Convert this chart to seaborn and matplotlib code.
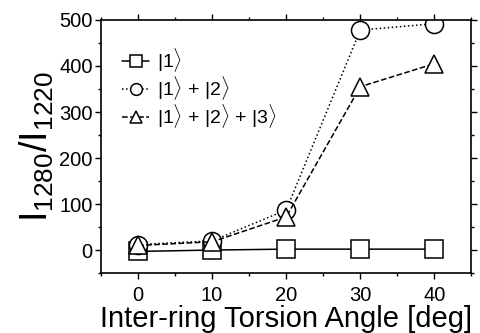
import numpy as np
import pandas as pd
import matplotlib
matplotlib.use("Agg")
import matplotlib.pyplot as plt
import seaborn as sns
from matplotlib.ticker import MultipleLocator

angle = [0, 10, 20, 30, 40]
state1 = [-3, 0, 2, 2, 2]
state12 = [12, 20, 87, 478, 492]
state123 = [10, 18, 72, 355, 405]
labels = [r"$|1\rangle$", r"$|1\rangle$ + $|2\rangle$", r"$|1\rangle$ + $|2\rangle$ + $|3\rangle$"]

sns.set_theme(style="ticks")
plt.rcParams['font.family'] = ['Liberation Sans', 'DejaVu Sans']
plt.rcParams['mathtext.fontset'] = 'custom'
plt.rcParams['mathtext.rm'] = 'Liberation Sans'
plt.rcParams['mathtext.it'] = 'Liberation Sans'
plt.rcParams['text.color'] = 'black'
plt.rcParams['axes.labelcolor'] = 'black'

df = pd.DataFrame({
    "angle": angle * 3,
    "value": state1 + state12 + state123,
    "series": [labels[0]] * 5 + [labels[1]] * 5 + [labels[2]] * 5,
})

fig, ax = plt.subplots(figsize=(4.81, 3.33), dpi=100)
styles = {labels[0]: ("s", "-"), labels[1]: ("o", ":"), labels[2]: ("^", "--")}
for lab in labels:
    m, ls = styles[lab]
    sub = df[df["series"] == lab]
    sns.lineplot(data=sub, x="angle", y="value", ax=ax, color="black", lw=1.1,
                 linestyle=ls, marker=m, markersize=13, markerfacecolor="white",
                 markeredgecolor="black", markeredgewidth=1.1, label=lab)

ax.set_xlim(-5, 45)
ax.set_ylim(-50, 500)
ax.xaxis.set_major_locator(MultipleLocator(10))
ax.xaxis.set_minor_locator(MultipleLocator(5))
ax.yaxis.set_major_locator(MultipleLocator(100))
ax.yaxis.set_minor_locator(MultipleLocator(50))
ax.tick_params(which="both", direction="out", labelsize=14.5, colors="black", pad=2)
ax.tick_params(axis="x", pad=5)
ax.tick_params(which="major", length=4, width=1)
ax.tick_params(which="minor", length=2.5, width=1)
ax.tick_params(which="both", top=True, right=True)
for s in ax.spines.values():
    s.set_linewidth(1.2)
    s.set_color("black")

ax.set_xlabel("Inter-ring Torsion Angle [deg]", fontsize=21, labelpad=0)
ax.set_ylabel(r"I$_{1280}$/I$_{1220}$", fontsize=27, labelpad=2)
leg = ax.legend(loc="upper left", bbox_to_anchor=(0.02, 0.95), frameon=False,
                fontsize=14, handlelength=1.4, markerscale=0.65, handletextpad=0.4,
                labelspacing=0.0, borderpad=0.2)

fig.subplots_adjust(left=0.21, right=0.98, top=0.94, bottom=0.18)
fig.savefig("out.png", dpi=100)
